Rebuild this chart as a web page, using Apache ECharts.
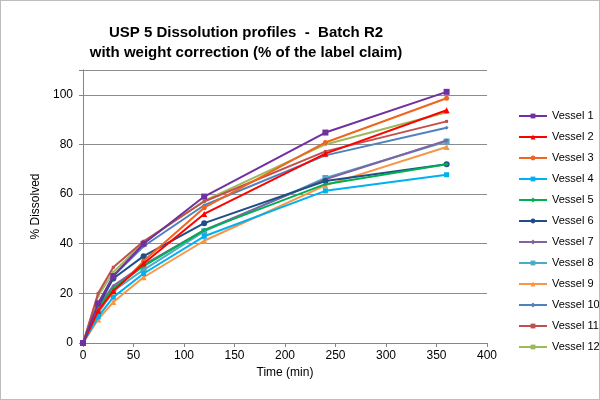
<!DOCTYPE html>
<html><head><meta charset="utf-8">
<script src="https://cdn.jsdelivr.net/npm/echarts@6/dist/echarts.min.js"></script>
<style>html,body{margin:0;padding:0;background:#fff}#c{width:600px;height:400px;box-sizing:border-box;border:1px solid #bdbdbd}</style>
</head><body><div id="c"></div>
<script>
const times = [0, 15, 30, 60, 120, 240, 360];
const seriesNames = ['Vessel 1','Vessel 2','Vessel 3','Vessel 4','Vessel 5','Vessel 6','Vessel 7','Vessel 8','Vessel 9','Vessel 10','Vessel 11','Vessel 12'];
const v1  = [0, 16, 27, 40, 59, 84.8, 101.2];
const v2  = [0, 13, 21, 32, 52, 76.3, 93.8];
const v3  = [0, 13, 20.5, 33, 54.5, 80.8, 98.6];
const v4  = [0, 10.5, 18.5, 28, 43, 61.3, 67.8];
const v5  = [0, 14, 22, 31, 45.5, 64, 72];
const v6  = [0, 15, 26, 35, 48.3, 65.3, 72];
const v7  = [0, 15, 23, 31.5, 45.5, 66, 81.6];
const v8  = [0, 12, 21, 29.5, 45, 66.5, 81.2];
const v9  = [0, 9.5, 16.5, 26.5, 41.2, 63.5, 79];
const v10 = [0, 15, 27, 39, 55.5, 75.6, 86.7];
const v11 = [0, 20, 30.5, 41, 57, 77.2, 89.3];
const v12 = [0, 19, 28.5, 40.5, 57.3, 80, 93];
const values = [v1,v2,v3,v4,v5,v6,v7,v8,v9,v10,v11,v12];
const colors = ['#7030A0','#FF0000','#F0641E','#00B0F0','#00B050','#1F4E89','#8064A2','#4BACC6','#F79646','#4F81BD','#C0504D','#9BBB59'];
const symbols = ['rect','triangle','circle','rect','diamond','circle','diamond','rect','triangle','diamond','rect','rect'];
const sizes = [6,6,5,5,4,6,4,6,6,4,3,3];

const chart = echarts.init(document.getElementById('c'));
chart.setOption({
  animation: false,
  title: {
    text: 'USP 5 Dissolution profiles  -  Batch R2\nwith weight correction (% of the label claim)',
    left: 240, top: 17, textAlign: 'center',
    textStyle: {fontFamily: 'Liberation Sans', fontSize: 15, fontWeight: 'bold', color: '#000', lineHeight: 20}
  },
  legend: {
    orient: 'vertical', left: 517, top: 108, padding: 0, itemGap: 7, itemWidth: 28, itemHeight: 6,
    textStyle: {fontFamily: 'Liberation Sans', fontSize: 11, lineHeight: 14, color: '#000'},
    data: seriesNames
  },
  grid: {left: 82, right: 112, top: 69, bottom: 56},
  xAxis: {
    type: 'value', min: 0, max: 400, interval: 50,
    name: 'Time (min)', nameLocation: 'middle', nameGap: 21,
    nameTextStyle: {fontFamily: 'Liberation Sans', fontSize: 12, color: '#000'},
    axisLine: {lineStyle: {color: '#868686'}},
    axisTick: {show: true, length: 4, lineStyle: {color: '#868686'}},
    axisLabel: {fontFamily: 'Liberation Sans', fontSize: 12, color: '#000', margin: 7},
    splitLine: {show: false}
  },
  yAxis: {
    type: 'value', min: 0, max: 110, interval: 20,
    name: '% Dissolved', nameLocation: 'middle', nameGap: 32, nameRotate: 90,
    nameTextStyle: {fontFamily: 'Liberation Sans', fontSize: 12, color: '#000'},
    axisLine: {show: true, lineStyle: {color: '#868686'}},
    axisTick: {show: true, length: 4, lineStyle: {color: '#868686'}},
    axisLabel: {fontFamily: 'Liberation Sans', fontSize: 12, color: '#000', margin: 10,
      formatter: v => (v % 20 === 0 && v <= 100) ? String(v) : ''},
    splitLine: {show: true, lineStyle: {color: '#8c8c8c', width: 1}}
  },
  series: values.map((vals, i) => ({
    name: seriesNames[i], type: 'line',
    data: times.map((t, j) => [t, vals[j]]),
    symbol: symbols[i], symbolSize: sizes[i], showSymbol: true,
    lineStyle: {width: 2, color: colors[i]},
    itemStyle: {color: colors[i]},
    z: 12 - i
  }))
});
</script></body></html>
